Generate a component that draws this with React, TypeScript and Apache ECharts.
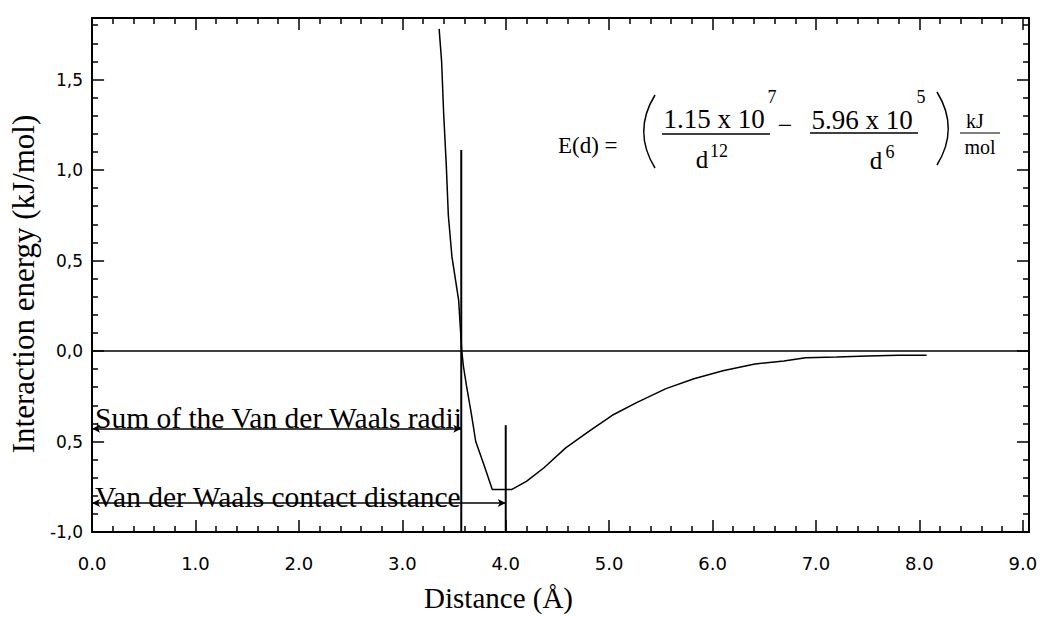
import React, { useEffect, useRef } from "react";
import * as echarts from "echarts";

// ---- data ----
const distance = [3.356, 3.38, 3.4, 3.425, 3.445, 3.48, 3.545, 3.575, 3.59, 3.62, 3.67, 3.71, 3.79, 3.87, 4.06, 4.2, 4.37, 4.58, 4.79, 5.03, 5.27, 5.55, 5.82, 6.1, 6.41, 6.69, 6.9, 7.2, 7.5, 7.8, 8.07];
const energy = [1.78, 1.6, 1.31, 1.03, 0.75, 0.52, 0.28, 0.0, -0.08, -0.19, -0.355, -0.5, -0.63, -0.765, -0.765, -0.72, -0.645, -0.535, -0.45, -0.355, -0.284, -0.208, -0.153, -0.109, -0.072, -0.055, -0.037, -0.033, -0.028, -0.024, -0.024];

const radiiSum = 3.57;
const radiiLineTop = 1.11;
const contactDistance = 4.0;
const contactLineTop = -0.41;
const radiiArrowY = -0.43;
const contactArrowY = -0.84;

const xMin = 0;
const xMax = 9.06;
const yMin = -1.0;
const yMax = 1.84;

const yTickValues = [-1.0, -0.5, 0.0, 0.5, 1.0, 1.5];
const yTickLabels = ["-1,0", "0,5", "0,0", "0,5", "1,0", "1,5"];
const xTickLabels = ["0.0", "1.0", "2.0", "3.0", "4.0", "5.0", "6.0", "7.0", "8.0", "9.0"];

const SERIF = '"Liberation Serif", "Times New Roman", serif';
const SANS = '"DejaVu Sans", sans-serif';

function txt(text: string, x: number, y: number, size: number, align = "center") {
  return {
    type: "text",
    x,
    y,
    silent: true,
    style: {
      text,
      font: `${size}px ${SERIF}`,
      fill: "#000",
      align,
      textAlign: align,
      verticalAlign: "middle",
      textVerticalAlign: "middle",
    },
  };
}

function seg(x1: number, y1: number, x2: number, y2: number, w = 1.5) {
  return { type: "line", silent: true, shape: { x1, y1, x2, y2 }, style: { stroke: "#000", lineWidth: w } };
}

function curve(x1: number, y1: number, x2: number, y2: number, cx: number) {
  const dy = (y2 - y1) / 3;
  return {
    type: "bezierCurve",
    silent: true,
    shape: { x1, y1, x2, y2, cpx1: cx, cpy1: y1 + dy, cpx2: cx, cpy2: y2 - dy },
    style: { stroke: "#000", lineWidth: 1.5, fill: null },
  };
}

export default function App() {
  const ref = useRef<HTMLDivElement>(null);

  useEffect(() => {
    if (!ref.current) return;
    const chart = echarts.init(ref.current, undefined, { renderer: "svg" });

    const axisCommon = {
      axisLine: { onZero: false, lineStyle: { color: "#000", width: 2 } },
      axisTick: { inside: true, length: 12, lineStyle: { color: "#000", width: 1.5 } },
      minorTick: { show: true, splitNumber: 5, length: 6, lineStyle: { color: "#000", width: 1.5 } },
      splitLine: { show: false },
      minorSplitLine: { show: false },
    };

    const curveData = distance.map((d, i) => [d, energy[i]]);

    const option: any = {
      animation: false,
      backgroundColor: "#fff",
      grid: { left: 92, right: 15, top: 18, bottom: 78 },
      xAxis: [
        {
          type: "value",
          min: xMin,
          max: xMax,
          interval: 1,
          position: "bottom",
          ...axisCommon,
          axisLabel: {
            showMaxLabel: false,
            margin: 22,
            color: "#000",
            fontFamily: SANS,
            fontSize: 18,
            formatter: (v: number) => {
              const i = Math.round(v);
              return Math.abs(v - i) < 1e-6 && xTickLabels[i] !== undefined ? xTickLabels[i] : "";
            },
          },
          name: "Distance (Å)",
          nameLocation: "middle",
          nameGap: 51,
          nameTextStyle: { fontFamily: SERIF, fontSize: 29, color: "#000", padding: [0, 124, 0, 0] },
        },
        {
          type: "value",
          min: xMin,
          max: xMax,
          interval: 1,
          position: "top",
          ...axisCommon,
          axisLabel: { show: false },
        },
      ],
      yAxis: [
        {
          type: "value",
          min: yMin,
          max: yMax,
          interval: 0.5,
          position: "left",
          ...axisCommon,
          axisLabel: {
            showMaxLabel: false,
            margin: 9,
            color: "#000",
            fontFamily: SANS,
            fontSize: 17,
            formatter: (v: number) => {
              const i = yTickValues.findIndex((t) => Math.abs(t - v) < 1e-6);
              return i >= 0 ? yTickLabels[i] : "";
            },
          },
          name: "Interaction energy (kJ/mol)",
          nameLocation: "middle",
          nameGap: 48,
          nameTextStyle: { fontFamily: SERIF, fontSize: 31, color: "#000", padding: [0, 18, 0, 0] },
        },
        {
          type: "value",
          min: yMin,
          max: yMax,
          interval: 0.5,
          position: "right",
          ...axisCommon,
          axisLabel: { show: false },
        },
      ],
      series: [
        {
          type: "line",
          data: curveData,
          symbol: "none",
          lineStyle: { color: "#000", width: 1.5 },
          markLine: {
            silent: true,
            symbol: "none",
            label: { show: false },
            lineStyle: { color: "#000", width: 1.5, type: "solid" },
            data: [{ yAxis: 0 }],
          },
        },
        {
          type: "line",
          data: [
            [radiiSum, radiiLineTop],
            [radiiSum, yMin],
          ],
          symbol: "none",
          lineStyle: { color: "#000", width: 2 },
        },
        {
          type: "line",
          data: [
            [contactDistance, contactLineTop],
            [contactDistance, yMin],
          ],
          symbol: "none",
          lineStyle: { color: "#000", width: 2 },
        },
        {
          type: "line",
          data: [],
          markLine: {
            silent: true,
            symbol: ["arrow", "arrow"],
            symbolSize: [6, 8],
            label: { show: false },
            lineStyle: { color: "#000", width: 1.5, type: "solid" },
            data: [
              [{ coord: [xMin, radiiArrowY] }, { coord: [radiiSum, radiiArrowY] }],
              [{ coord: [xMin, contactArrowY] }, { coord: [contactDistance, contactArrowY] }],
            ],
          },
        },
      ],
      graphic: [
        txt("Sum of the Van der Waals radii", 95, 418, 29.5, "left"),
        txt("Van der Waals contact distance", 95, 497, 29.5, "left"),
        // formula
        txt("E(d) =", 558, 145, 23, "left"),
        curve(655, 95, 655, 168, 640),
        txt("1.15 x 10", 714, 119, 27),
        txt("7", 772, 97, 18),
        seg(662, 134, 770, 134),
        txt("d", 702, 159, 25),
        txt("12", 719, 151, 18),
        txt("−", 785, 125, 26),
        txt("5.96 x 10", 862, 120, 27),
        txt("5", 921, 97, 18),
        seg(810, 133, 918, 133),
        txt("d", 876, 160, 25),
        txt("6", 890, 152, 18),
        curve(937, 92, 937, 165, 952),
        txt("kJ", 975, 121, 20),
        seg(960, 133, 1000, 133, 1.2),
        txt("mol", 980, 147, 20),
      ],
    };

    chart.setOption(option);
    return () => chart.dispose();
  }, []);

  return (
    <div
      ref={ref}
      style={{ position: "absolute", left: 0, top: 0, width: 1044, height: 617, background: "#fff" }}
    />
  );
}
